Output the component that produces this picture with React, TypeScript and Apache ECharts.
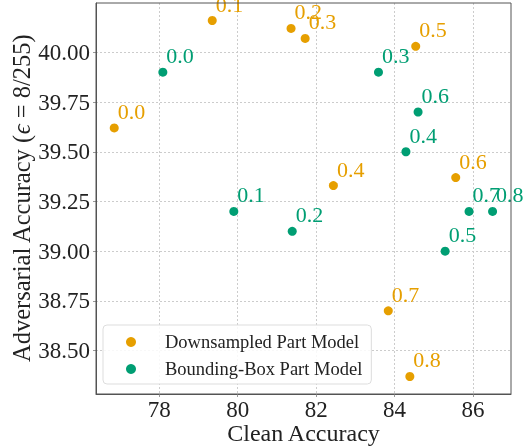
import React, { useEffect, useRef } from "react";
import * as echarts from "echarts";

const labels = ["0.0", "0.1", "0.2", "0.3", "0.4", "0.5", "0.6", "0.7", "0.8"];
const downClean = [76.85, 79.35, 81.36, 81.72, 82.44, 84.54, 85.56, 83.84, 84.39];
const downAdv = [39.62, 40.16, 40.12, 40.07, 39.33, 40.03, 39.37, 38.70, 38.37];
const boxClean = [78.09, 79.9, 81.39, 83.59, 84.29, 85.29, 84.6, 85.9, 86.5];
const boxAdv = [39.9, 39.2, 39.1, 39.9, 39.5, 39.0, 39.7, 39.2, 39.2];
const xTicks = [78, 80, 82, 84, 86];
const yTicks = [38.5, 38.75, 39.0, 39.25, 39.5, 39.75, 40.0];

const FONT = "Liberation Serif";
const ORANGE = "#E69F00";
const GREEN = "#009E73";

function mk(xs: number[], ys: number[]) {
  return xs.map((x, i) => ({ value: [x, ys[i]], name: labels[i] }));
}

export default function App() {
  const ref = useRef<HTMLDivElement>(null);
  useEffect(() => {
    if (!ref.current) return;
    const chart = echarts.init(ref.current, null, { renderer: "svg" });
    const seriesLabel = (color: string) => ({
      show: true,
      formatter: (p: any) => p.name,
      position: [8, -12],
      align: "left",
      verticalAlign: "middle",
      color,
      fontFamily: FONT,
      fontSize: 22,
    });
    chart.setOption({
      animation: false,
      textStyle: { fontFamily: FONT },
      grid: {
        left: 96,
        right: 12,
        top: 3,
        bottom: 54,
        containLabel: false,
        outerBoundsMode: "none",
      },
      xAxis: {
        type: "value",
        min: 76.385,
        max: 86.97,
        name: "Clean Accuracy",
        nameLocation: "middle",
        nameGap: 27,
        nameMoveOverlap: false,
        nameTextStyle: { fontFamily: FONT, fontSize: 24, color: "#222" },
        axisLine: { show: true, lineStyle: { color: "#555", width: 1 } },
        axisTick: { show: true, length: 3, lineStyle: { color: "#999" }, customValues: xTicks },
        axisLabel: { fontFamily: FONT, fontSize: 23, color: "#222", margin: 4, customValues: xTicks },
        splitLine: { show: true, lineStyle: { color: "#ccc", type: [2, 2], width: 1 } },
      },
      yAxis: {
        type: "value",
        min: 38.282,
        max: 40.248,
        name: "{a|Adversarial Accuracy (}{e|ϵ}{a| = 8/255)}",
        nameLocation: "middle",
        nameGap: 62,
        nameMoveOverlap: false,
        nameRotate: 90,
        nameTextStyle: {
          rich: {
            a: { fontFamily: FONT, fontSize: 24.5, color: "#222" },
            e: { fontFamily: FONT, fontSize: 24.5, color: "#222", fontStyle: "italic" },
          },
        },
        axisLine: { show: true, lineStyle: { color: "#555", width: 1 } },
        axisTick: { show: true, length: 3, lineStyle: { color: "#999" }, customValues: yTicks },
        axisLabel: {
          fontFamily: FONT,
          fontSize: 23,
          color: "#222",
          margin: 6,
          customValues: yTicks,
          formatter: (v: number) => v.toFixed(2),
        },
        splitLine: { show: true, lineStyle: { color: "#ccc", type: [2, 2], width: 1 } },
      },
      legend: {
        orient: "vertical",
        left: 103,
        top: 325,
        padding: [7, 9, 5, 23],
        itemWidth: 10,
        itemHeight: 10,
        itemGap: 7,
        backgroundColor: "rgba(255,255,255,0.85)",
        borderColor: "#ddd",
        borderWidth: 1,
        borderRadius: 4,
        textStyle: { fontFamily: FONT, fontSize: 18.5, color: "#222", lineHeight: 20, padding: [0, 0, 0, 24] },
        data: ["Downsampled Part Model", "Bounding-Box Part Model"],
      },
      series: [
        {
          type: "scatter",
          name: "Downsampled Part Model",
          data: mk(downClean, downAdv),
          symbolSize: 9,
          itemStyle: { color: ORANGE, opacity: 1 },
          label: seriesLabel(ORANGE),
        },
        {
          type: "scatter",
          name: "Bounding-Box Part Model",
          data: mk(boxClean, boxAdv),
          symbolSize: 9,
          itemStyle: { color: GREEN, opacity: 1 },
          label: seriesLabel(GREEN),
        },
      ],
      graphic: [
        {
          type: "rect",
          shape: { x: 96, y: 3, width: 415, height: 391 },
          style: { fill: "none", stroke: "#555", lineWidth: 1 },
          silent: true,
          z: 10,
        },
      ],
    });
    return () => chart.dispose();
  }, []);
  return (
    <div
      ref={ref}
      style={{ position: "fixed", left: 0, top: 0, width: 523, height: 448 }}
    />
  );
}
